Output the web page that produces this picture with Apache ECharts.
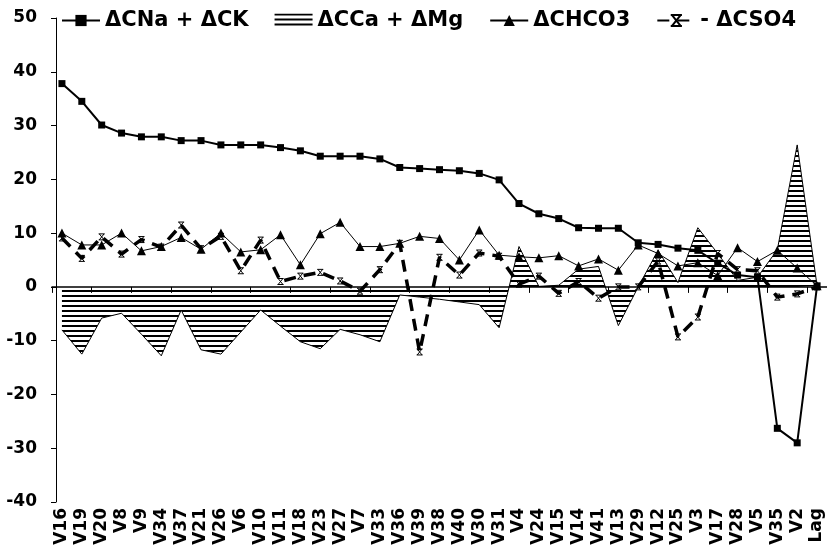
<!DOCTYPE html>
<html>
<head>
<meta charset="utf-8">
<script src="https://cdn.jsdelivr.net/npm/echarts@6/dist/echarts.min.js"></script>
<style>
html,body{margin:0;padding:0;background:#fff;}
#chart{width:827px;height:560px;}
</style>
</head>
<body>
<div id="chart"></div>
<script>
const categories = ['V16','V19','V20','V8','V9','V34','V37','V21','V26','V6','V10','V11','V18','V23','V27','V7','V33','V36','V39','V38','V40','V30','V31','V4','V24','V15','V14','V41','V13','V29','V12','V25','V3','V17','V28','V5','V35','V2','Lag'];

const naK = [37.8,34.5,30.1,28.6,27.9,27.9,27.2,27.2,26.4,26.4,26.4,25.9,25.3,24.3,24.3,24.3,23.8,22.2,22.0,21.8,21.6,21.1,19.9,15.5,13.6,12.7,11.0,10.9,10.9,8.2,7.9,7.2,6.8,4.4,2.2,1.8,-26.3,-29.0,0.2];

const caMg = [-8.0,-12.5,-5.8,-4.9,-8.8,-12.8,-4.3,-11.7,-12.5,-8.4,-4.3,-7.3,-10.2,-11.5,-7.9,-8.9,-10.2,-1.5,-1.9,-2.3,-2.8,-3.3,-7.6,7.5,0.1,0.3,3.3,3.8,-7.2,0.0,6.8,0.8,11.0,6.2,1.2,1.8,6.9,26.4,0.2];

const hco3 = [10.0,7.8,7.8,10.0,6.7,7.5,9.2,7.0,10.0,6.5,6.9,9.7,4.1,9.9,12.0,7.5,7.5,8.1,9.4,9.0,5.0,10.6,5.9,5.6,5.4,5.8,3.9,5.2,3.1,7.8,6.2,3.9,4.5,2.1,7.3,4.7,6.8,3.5,0.2];

const so4 = [9.1,5.3,9.3,6.1,8.8,7.4,11.5,7.1,9.4,3.0,8.7,1.0,2.0,2.7,1.1,-0.8,3.2,8.1,-12.1,5.5,2.2,6.3,5.7,0.5,2.0,-1.2,1.0,-2.1,0.0,0.0,4.8,-9.3,-5.6,6.2,3.2,3.0,-1.9,-1.3,0.0];

const yTicks = {min: -40, max: 50, interval: 10};

const seriesNames = ['ΔCNa + ΔCK', 'ΔCCa + ΔMg', 'ΔCHCO3', '- ΔCSO4'];

// hatch pattern (horizontal lines)
const hatch = document.createElement('canvas');
hatch.width = 6; hatch.height = 5;
const hctx = hatch.getContext('2d');
hctx.fillStyle = '#000';
hctx.fillRect(0, 0, 6, 2);
const hatchFill = {image: hatch, repeat: 'repeat'};

const FONT = 'DejaVu Sans';
const xSymbol = 'path://M0,0L10,0M0,10L10,10M1,0L9,10M9,0L1,10';

const chart = echarts.init(document.getElementById('chart'), null, {renderer: 'canvas'});
chart.setOption({
  animation: false,
  backgroundColor: '#fff',
  grid: {left: 52, right: -3, top: 18, bottom: 58, containLabel: false},
  legend: {
    left: 56, top: 5, itemGap: 26, itemWidth: 38, itemHeight: 14,
    textStyle: {fontFamily: FONT, fontWeight: 'bold', fontSize: 21, color: '#000'},
    data: [
      {name: seriesNames[0]},
      {name: seriesNames[1], icon: 'rect', itemStyle: {color: hatchFill, borderColor: '#000', borderWidth: 0}},
      {name: seriesNames[2]},
      {name: seriesNames[3]}
    ]
  },
  xAxis: [
    {
      type: 'category', data: categories, boundaryGap: true, position: 'bottom',
      axisLine: {show: false, onZero: false},
      axisTick: {show: false},
      axisLabel: {interval: 0, rotate: 90, margin: 6, fontFamily: FONT, fontWeight: 'bold', fontSize: 17, color: '#000'}
    },
    {
      type: 'category', data: categories, boundaryGap: true, position: 'bottom',
      axisLine: {show: true, onZero: true, lineStyle: {color: '#000', width: 1.5}},
      axisTick: {show: true, length: 6, lineStyle: {color: '#000', width: 1}},
      axisLabel: {show: false}
    }
  ],
  yAxis: {
    type: 'value', min: yTicks.min, max: yTicks.max, interval: yTicks.interval, offset: -4,
    axisLine: {show: true, lineStyle: {color: '#000', width: 1}},
    axisTick: {show: true, length: 5, lineStyle: {color: '#000'}},
    splitLine: {show: false},
    axisLabel: {margin: 19, fontFamily: FONT, fontWeight: 'bold', fontSize: 17, color: '#000'}
  },
  series: [
    {
      name: seriesNames[1], type: 'line', data: caMg, symbol: 'none',
      lineStyle: {color: '#000', width: 1},
      itemStyle: {color: '#000'},
      areaStyle: {color: hatchFill, opacity: 1},
      z: 1
    },
    {
      name: seriesNames[0], type: 'line', data: naK, symbol: 'rect', symbolSize: 7,
      lineStyle: {color: '#000', width: 2},
      itemStyle: {color: '#000'},
      z: 4
    },
    {
      name: seriesNames[2], type: 'line', data: hco3, symbol: 'triangle', symbolSize: 9,
      lineStyle: {color: '#000', width: 1},
      itemStyle: {color: '#000'},
      z: 3
    },
    {
      name: seriesNames[3], type: 'line', data: so4, symbol: xSymbol, symbolSize: 6,
      lineStyle: {color: '#000', width: 3.5, type: [12, 8]},
      itemStyle: {color: 'none', borderColor: '#000', borderWidth: 1},
      z: 2
    }
  ]
});
</script>
</body>
</html>
